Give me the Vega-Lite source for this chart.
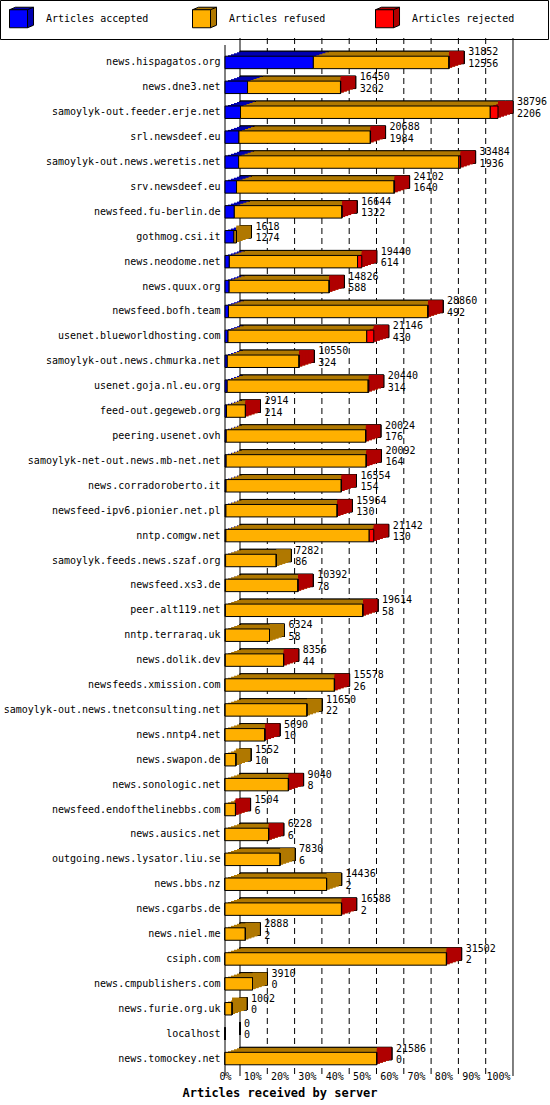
{
  "$schema": "https://vega.github.io/schema/vega-lite/v6.json",
  "autosize": {"type": "none"},
  "width": 288,
  "height": 1031,
  "padding": {"left": 225, "top": 45, "right": 37, "bottom": 29},
  "background": "white",
  "config": {
    "view": {"stroke": null},
    "font": "DejaVu Sans Mono",
    "text": {"font": "DejaVu Sans Mono", "fontSize": 10, "color": "#000"},
    "axisX": {"grid": false, "ticks": false, "domain": false, "labelOverlap": false},
    "axisY": {"grid": false, "ticks": false, "domain": false}
  },
  "datasets": {
    "servers": [
      {"server": "news.hispagatos.org", "total": 31852, "accepted": 12556, "refused": 19256, "rejected": 40},
      {"server": "news.dne3.net", "total": 16450, "accepted": 3202, "refused": 13208, "rejected": 40},
      {"server": "samoylyk-out.feeder.erje.net", "total": 38796, "accepted": 2206, "refused": 35490, "rejected": 1100},
      {"server": "srl.newsdeef.eu", "total": 20688, "accepted": 1984, "refused": 18664, "rejected": 40},
      {"server": "samoylyk-out.news.weretis.net", "total": 33484, "accepted": 1936, "refused": 31298, "rejected": 250},
      {"server": "srv.newsdeef.eu", "total": 24102, "accepted": 1640, "refused": 22382, "rejected": 80},
      {"server": "newsfeed.fu-berlin.de", "total": 16644, "accepted": 1322, "refused": 15282, "rejected": 40},
      {"server": "gothmog.csi.it", "total": 1618, "accepted": 1274, "refused": 344, "rejected": 0},
      {"server": "news.neodome.net", "total": 19440, "accepted": 614, "refused": 18226, "rejected": 600},
      {"server": "news.quux.org", "total": 14826, "accepted": 588, "refused": 14198, "rejected": 40},
      {"server": "newsfeed.bofh.team", "total": 28860, "accepted": 492, "refused": 28328, "rejected": 40},
      {"server": "usenet.blueworldhosting.com", "total": 21146, "accepted": 430, "refused": 19716, "rejected": 1000},
      {"server": "samoylyk-out.news.chmurka.net", "total": 10550, "accepted": 324, "refused": 10186, "rejected": 40},
      {"server": "usenet.goja.nl.eu.org", "total": 20440, "accepted": 314, "refused": 20026, "rejected": 100},
      {"server": "feed-out.gegeweb.org", "total": 2914, "accepted": 214, "refused": 2680, "rejected": 20},
      {"server": "peering.usenet.ovh", "total": 20024, "accepted": 176, "refused": 19808, "rejected": 40},
      {"server": "samoylyk-net-out.news.mb-net.net", "total": 20092, "accepted": 164, "refused": 19888, "rejected": 40},
      {"server": "news.corradoroberto.it", "total": 16554, "accepted": 154, "refused": 16360, "rejected": 40},
      {"server": "newsfeed-ipv6.pionier.net.pl", "total": 15964, "accepted": 130, "refused": 15794, "rejected": 40},
      {"server": "nntp.comgw.net", "total": 21142, "accepted": 130, "refused": 20362, "rejected": 650},
      {"server": "samoylyk.feeds.news.szaf.org", "total": 7282, "accepted": 86, "refused": 7196, "rejected": 0},
      {"server": "newsfeed.xs3.de", "total": 10392, "accepted": 78, "refused": 10274, "rejected": 40},
      {"server": "peer.alt119.net", "total": 19614, "accepted": 58, "refused": 19516, "rejected": 40},
      {"server": "nntp.terraraq.uk", "total": 6324, "accepted": 58, "refused": 6266, "rejected": 0},
      {"server": "news.dolik.dev", "total": 8356, "accepted": 44, "refused": 8272, "rejected": 40},
      {"server": "newsfeeds.xmission.com", "total": 15578, "accepted": 26, "refused": 15512, "rejected": 40},
      {"server": "samoylyk-out.news.tnetconsulting.net", "total": 11650, "accepted": 22, "refused": 11628, "rejected": 0},
      {"server": "news.nntp4.net", "total": 5690, "accepted": 10, "refused": 5640, "rejected": 40},
      {"server": "news.swapon.de", "total": 1552, "accepted": 10, "refused": 1542, "rejected": 0},
      {"server": "news.sonologic.net", "total": 9040, "accepted": 8, "refused": 8992, "rejected": 40},
      {"server": "newsfeed.endofthelinebbs.com", "total": 1504, "accepted": 6, "refused": 1478, "rejected": 20},
      {"server": "news.ausics.net", "total": 6228, "accepted": 6, "refused": 6182, "rejected": 40},
      {"server": "outgoing.news.lysator.liu.se", "total": 7830, "accepted": 6, "refused": 7824, "rejected": 0},
      {"server": "news.bbs.nz", "total": 14436, "accepted": 2, "refused": 14434, "rejected": 0},
      {"server": "news.cgarbs.de", "total": 16588, "accepted": 2, "refused": 16546, "rejected": 40},
      {"server": "news.niel.me", "total": 2888, "accepted": 2, "refused": 2886, "rejected": 0},
      {"server": "csiph.com", "total": 31502, "accepted": 2, "refused": 31460, "rejected": 40},
      {"server": "news.cmpublishers.com", "total": 3910, "accepted": 0, "refused": 3910, "rejected": 0},
      {"server": "news.furie.org.uk", "total": 1002, "accepted": 0, "refused": 1002, "rejected": 0},
      {"server": "localhost", "total": 0, "accepted": 0, "refused": 0, "rejected": 0},
      {"server": "news.tomockey.net", "total": 21586, "accepted": 0, "refused": 21546, "rejected": 40}
    ],
    "ticks": [
      {"pct": 0, "articles": 0},
      {"pct": 10, "articles": 3879.6},
      {"pct": 20, "articles": 7759.2},
      {"pct": 30, "articles": 11638.8},
      {"pct": 40, "articles": 15518.4},
      {"pct": 50, "articles": 19398},
      {"pct": 60, "articles": 23277.6},
      {"pct": 70, "articles": 27157.2},
      {"pct": 80, "articles": 31036.8},
      {"pct": 90, "articles": 34916.4},
      {"pct": 100, "articles": 38796}
    ]
  },
  "layer": [
    {
      "data": {"name": "servers"},
      "transform": [{"fold": ["accepted", "refused", "rejected"], "as": ["key", "articles"]}],
      "mark": {"type": "bar", "stroke": "#000", "strokeWidth": 1, "xOffset": 15, "x2Offset": 15, "yOffset": -5, "y2Offset": -5},
      "encoding": {
        "y": {
          "field": "server", "type": "nominal", "sort": null,
          "scale": {"paddingInner": 0.5, "paddingOuter": 0.45},
          "axis": {"title": null, "ticks": false, "domain": false, "labelPadding": 5, "labelLimit": 0, "labelFont": "DejaVu Sans Mono", "labelFontSize": 10, "labelColor": "#000"}
        },
        "x": {
          "field": "articles", "type": "quantitative", "stack": "zero",
          "scale": {"domain": [0, 40928], "nice": false, "zero": true},
          "axis": {
            "values": [0, 3879.6, 7759.2, 11638.8, 15518.4, 19398, 23277.6, 27157.2, 31036.8, 34916.4, 38796],
            "tickCount": 22,
            "labelExpr": "format(datum.value / 38796, '.0%')",
            "labelOverlap": false, "labelFlush": false, "labelBound": false,
            "grid": false, "ticks": false, "domain": false,
            "offset": -8, "labelPadding": 3,
            "labelFont": "DejaVu Sans Mono", "labelFontSize": 10, "labelColor": "#000",
            "title": "Articles received by server",
            "titleFont": "DejaVu Sans Mono", "titleFontSize": 12, "titleFontWeight": "bold", "titleColor": "#000",
            "titleX": -43, "titleY": 24, "titleAlign": "left", "titleBaseline": "middle"
          }
        },
        "order": {"field": "key"},
        "fill": {
          "field": "key", "type": "nominal",
          "scale": {"domain": ["accepted", "refused", "rejected"], "range": ["#0000b0", "#b07800", "#b00000"]},
          "legend": {
            "orient": "none", "legendX": -225, "legendY": -45, "direction": "horizontal",
            "columns": 3, "gridAlign": "all", "columnPadding": 41, "padding": 9,
            "title": null,
            "symbolType": "M-1,-1L-0.33,-1.28L1.67,-1.28L1.67,0.72L1,1L1,-1ZM1,-1L1.67,-1.28",
            "symbolSize": 324, "symbolStrokeColor": "#000", "symbolStrokeWidth": 1, "symbolOpacity": 1,
            "labelOffset": 18, "labelFont": "DejaVu Sans Mono", "labelFontSize": 10, "labelColor": "transparent",
            "labelExpr": "'Articles ' + datum.label"
          }
        }
      }
    },
    {
      "data": {"name": "ticks"},
      "transform": [{"filter": "datum.pct > 0 && datum.pct < 100"}],
      "mark": {"type": "rule", "color": "#000", "strokeDash": [6, 4], "xOffset": 15, "yOffset": -7, "y2Offset": -16},
      "encoding": {
        "x": {"field": "articles", "type": "quantitative"}
      }
    },
    {
      "data": {"name": "ticks"},
      "transform": [{"filter": "datum.pct == 0 || datum.pct == 100"}],
      "mark": {"type": "rule", "color": "#000", "xOffset": 15, "yOffset": -7, "y2Offset": -16},
      "encoding": {
        "x": {"field": "articles", "type": "quantitative"}
      }
    },
    {
      "data": {"name": "ticks"},
      "transform": [{"filter": "datum.pct == 0"}],
      "mark": {"type": "rule", "color": "#000", "y2Offset": -9},
      "encoding": {
        "x": {"field": "articles", "type": "quantitative"}
      }
    },
    {
      "data": {"name": "servers"},
      "transform": [{"fold": ["accepted", "refused", "rejected"], "as": ["key", "articles"]}],
      "mark": {"type": "bar", "stroke": "#000", "strokeWidth": 1, "xOffset": 15, "x2Offset": 15, "yOffset": -5, "y2Offset": -5},
      "encoding": {
        "y": {"field": "server", "type": "nominal", "sort": null},
        "x": {"field": "articles", "type": "quantitative", "stack": "zero"},
        "order": {"field": "key"},
        "fill": {"field": "key", "type": "nominal"}
      }
    },
    {
      "data": {"name": "servers"},
      "transform": [{"fold": ["accepted", "refused", "rejected"], "as": ["key", "articles"]}],
      "mark": {"type": "bar", "xOffset": 12, "x2Offset": 12, "yOffset": -4, "y2Offset": -4},
      "encoding": {
        "y": {"field": "server", "type": "nominal", "sort": null},
        "x": {"field": "articles", "type": "quantitative", "stack": "zero"},
        "order": {"field": "key"},
        "fill": {"field": "key", "type": "nominal"}
      }
    },
    {
      "data": {"name": "servers"},
      "transform": [{"fold": ["accepted", "refused", "rejected"], "as": ["key", "articles"]}],
      "mark": {"type": "bar", "xOffset": 9, "x2Offset": 9, "yOffset": -3, "y2Offset": -3},
      "encoding": {
        "y": {"field": "server", "type": "nominal", "sort": null},
        "x": {"field": "articles", "type": "quantitative", "stack": "zero"},
        "order": {"field": "key"},
        "fill": {"field": "key", "type": "nominal"}
      }
    },
    {
      "data": {"name": "servers"},
      "transform": [{"fold": ["accepted", "refused", "rejected"], "as": ["key", "articles"]}],
      "mark": {"type": "bar", "xOffset": 6, "x2Offset": 6, "yOffset": -2, "y2Offset": -2},
      "encoding": {
        "y": {"field": "server", "type": "nominal", "sort": null},
        "x": {"field": "articles", "type": "quantitative", "stack": "zero"},
        "order": {"field": "key"},
        "fill": {"field": "key", "type": "nominal"}
      }
    },
    {
      "data": {"name": "servers"},
      "transform": [{"fold": ["accepted", "refused", "rejected"], "as": ["key", "articles"]}],
      "mark": {"type": "bar", "xOffset": 3, "x2Offset": 3, "yOffset": -1, "y2Offset": -1},
      "encoding": {
        "y": {"field": "server", "type": "nominal", "sort": null},
        "x": {"field": "articles", "type": "quantitative", "stack": "zero"},
        "order": {"field": "key"},
        "fill": {"field": "key", "type": "nominal"}
      }
    },
    {
      "data": {"name": "servers"},
      "transform": [{"filter": "datum.total > 0"}],
      "mark": {"type": "bar", "x2Offset": 14.5, "yOffset": -5, "y2Offset": -5},
      "encoding": {
        "y": {"field": "server", "type": "nominal", "sort": null},
        "x": {"field": "total", "type": "quantitative"},
        "x2": {"field": "total"},
        "fill": {"condition": {"test": "datum.rejected > 0", "value": "#b00000"}, "value": "#b07800"}
      }
    },
    {
      "data": {"name": "servers"},
      "transform": [{"filter": "datum.total > 0"}],
      "mark": {"type": "bar", "x2Offset": 12, "yOffset": -4, "y2Offset": -4},
      "encoding": {
        "y": {"field": "server", "type": "nominal", "sort": null},
        "x": {"field": "total", "type": "quantitative"},
        "x2": {"field": "total"},
        "fill": {"condition": {"test": "datum.rejected > 0", "value": "#b00000"}, "value": "#b07800"}
      }
    },
    {
      "data": {"name": "servers"},
      "transform": [{"filter": "datum.total > 0"}],
      "mark": {"type": "bar", "x2Offset": 9, "yOffset": -3, "y2Offset": -3},
      "encoding": {
        "y": {"field": "server", "type": "nominal", "sort": null},
        "x": {"field": "total", "type": "quantitative"},
        "x2": {"field": "total"},
        "fill": {"condition": {"test": "datum.rejected > 0", "value": "#b00000"}, "value": "#b07800"}
      }
    },
    {
      "data": {"name": "servers"},
      "transform": [{"filter": "datum.total > 0"}],
      "mark": {"type": "bar", "x2Offset": 6, "yOffset": -2, "y2Offset": -2},
      "encoding": {
        "y": {"field": "server", "type": "nominal", "sort": null},
        "x": {"field": "total", "type": "quantitative"},
        "x2": {"field": "total"},
        "fill": {"condition": {"test": "datum.rejected > 0", "value": "#b00000"}, "value": "#b07800"}
      }
    },
    {
      "data": {"name": "servers"},
      "transform": [{"filter": "datum.total > 0"}],
      "mark": {"type": "bar", "x2Offset": 3, "yOffset": -1, "y2Offset": -1},
      "encoding": {
        "y": {"field": "server", "type": "nominal", "sort": null},
        "x": {"field": "total", "type": "quantitative"},
        "x2": {"field": "total"},
        "fill": {"condition": {"test": "datum.rejected > 0", "value": "#b00000"}, "value": "#b07800"}
      }
    },
    {
      "data": {"name": "servers"},
      "transform": [{"fold": ["accepted", "refused", "rejected"], "as": ["key", "articles"]}],
      "mark": {"type": "bar", "stroke": "#000", "strokeWidth": 1, "fillOpacity": 1},
      "encoding": {
        "y": {"field": "server", "type": "nominal", "sort": null},
        "x": {"field": "articles", "type": "quantitative", "stack": "zero"},
        "order": {"field": "key"},
        "color": {
          "field": "key", "type": "nominal",
          "scale": {"range": ["#0000ff", "#ffb000", "#ff0000"]},
          "legend": {
            "orient": "none", "legendX": -225, "legendY": -45, "direction": "horizontal",
            "columns": 3, "gridAlign": "all", "columnPadding": 41, "padding": 9,
            "strokeColor": "#000",
            "title": "xx", "titleOrient": "right", "titlePadding": 12, "titleColor": "transparent",
            "titleFont": "DejaVu Sans Mono", "titleFontSize": 10, "titleFontWeight": "normal",
            "symbolType": "square", "symbolSize": 324, "symbolStrokeColor": "#000", "symbolStrokeWidth": 1, "symbolOpacity": 1,
            "labelOffset": 18, "labelFont": "DejaVu Sans Mono", "labelFontSize": 10, "labelColor": "#000",
            "labelExpr": "'Articles ' + datum.label"
          }
        }
      }
    },
    {
      "data": {"name": "servers"},
      "mark": {"type": "text", "align": "left", "baseline": "middle", "dx": 19, "dy": -10},
      "encoding": {
        "y": {"field": "server", "type": "nominal", "sort": null},
        "x": {"field": "total", "type": "quantitative"},
        "text": {"field": "total", "type": "quantitative", "format": "d"}
      }
    },
    {
      "data": {"name": "servers"},
      "mark": {"type": "text", "align": "left", "baseline": "middle", "dx": 19, "dy": 1.5},
      "encoding": {
        "y": {"field": "server", "type": "nominal", "sort": null},
        "x": {"field": "total", "type": "quantitative"},
        "text": {"field": "accepted", "type": "quantitative", "format": "d"}
      }
    }
  ]
}
